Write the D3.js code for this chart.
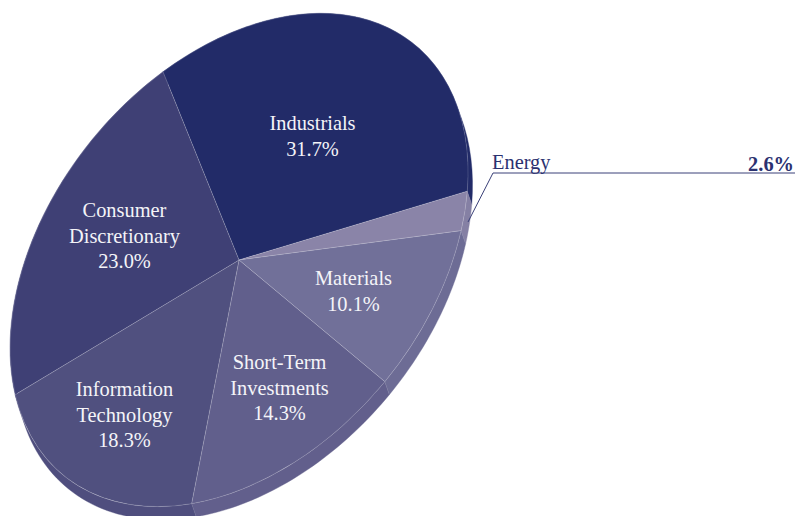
<!DOCTYPE html>
<html><head><meta charset="utf-8">
<script src="https://cdn.jsdelivr.net/npm/d3@7/dist/d3.min.js"></script>
<style>html,body{margin:0;padding:0;background:#fff}svg{display:block}
text{font-family:"Liberation Serif",serif}</style></head>
<body><svg id="c" width="797" height="516"></svg>
<script>
const categories = ["Industrials","Energy","Materials","Short-Term Investments","Information Technology","Consumer Discretionary"];
const values = [31.7,2.6,10.1,14.3,18.3,23.0];
const labelLines = [["Industrials"],["Energy"],["Materials"],["Short-Term","Investments"],["Information","Technology"],["Consumer","Discretionary"]];
const colors = ["#222b68","#8a84a8","#717099","#615f8c","#50507f","#3f4075"];
const sideColors = ["#222b68","#8580a4","#6d6c95","#625f8c","#4f4e7e","#3f4075"];

// layout
const cx=239, cy=260, proj=[229,-88,0,230.5], depth=[4.5,13];
const startDeg=-19.4, lineH=25.6, fs=20.4;
const labelCenter=[[312.5,130],null,[353.5,285],[279.5,369],[124.5,396],[124.5,217]];
const P=(a,r=1,off=[0,0])=>{const u=Math.sin(a)*r,v=-Math.cos(a)*r;
  return [cx+proj[0]*u+proj[2]*v+off[0], cy+proj[1]*u+proj[3]*v+off[1]];};

const svg=d3.select("#c");
const pie=d3.pie().value(d=>d).sort(null).startAngle(startDeg*Math.PI/180).endAngle(startDeg*Math.PI/180+2*Math.PI);
const arcs=pie(values);
const arc=d3.arc().innerRadius(0).outerRadius(1);
const line=d3.line();
const pts=(d,off)=>d3.range(0,41).map(i=>P(d.startAngle+(d.endAngle-d.startAngle)*i/40,1,off));

// side wall
svg.append("g").selectAll("path").data(arcs).join("path")
  .attr("d",d=>line([...pts(d,[0,0]),...pts(d,depth).reverse()])+"Z")
  .attr("fill",(d,i)=>sideColors[i]).attr("stroke",(d,i)=>sideColors[i]).attr("stroke-width",0.4);
// seam on the wall where slices meet
svg.append("g").selectAll("line").data(arcs.filter((d,i)=>[2,3,4].includes(i))).join("line")
  .attr("x1",d=>P(d.startAngle)[0]).attr("y1",d=>P(d.startAngle)[1])
  .attr("x2",d=>P(d.startAngle,1,depth)[0]).attr("y2",d=>P(d.startAngle,1,depth)[1])
  .attr("stroke","#ffffff").attr("stroke-opacity",.2).attr("stroke-width",.5);
// top face
svg.append("g").attr("transform",`matrix(${proj[0]},${proj[1]},${proj[2]},${proj[3]},${cx},${cy})`)
  .selectAll("path").data(arcs).join("path").attr("d",arc)
  .attr("fill",(d,i)=>colors[i]).attr("stroke","#ffffff").attr("stroke-opacity",.3)
  .attr("stroke-width",.5).attr("vector-effect","non-scaling-stroke");

// in-slice labels
arcs.forEach((d,i)=>{
  if(!labelCenter[i])return;
  const t=svg.append("text").attr("text-anchor","middle").attr("fill","#f4f4f8").attr("font-size",fs);
  [...labelLines[i],values[i].toFixed(1)+"%"].forEach((s,j)=>
    t.append("tspan").attr("x",labelCenter[i][0]).attr("y",labelCenter[i][1]+j*lineH).text(s));
});

// outside label for the small slice
const leader=[[468,222],[493,173],[795,173]];
svg.append("path").attr("d",line(leader)).attr("fill","none").attr("stroke","#3a4078").attr("stroke-width",1);
svg.append("text").attr("x",492).attr("y",169).attr("fill","#2b3170").attr("font-size",fs).text(labelLines[1][0]);
svg.append("text").attr("x",794).attr("y",171).attr("text-anchor","end").attr("fill","#2b3170")
  .attr("font-size",fs).attr("font-weight","bold").text(values[1].toFixed(1)+"%");
</script></body></html>
